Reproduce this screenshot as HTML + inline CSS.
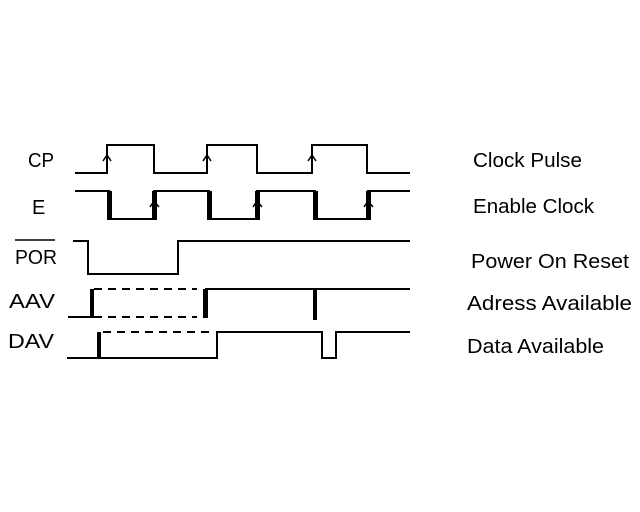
<!DOCTYPE html>
<html><head><style>html,body{margin:0;padding:0;background:#fff;}</style></head><body>
<svg width="640" height="512" xmlns="http://www.w3.org/2000/svg" style="display:block">
<g fill="none" stroke="#000" stroke-width="2">
<polyline points="75,173 107,173 107,145 154,145 154,173 207,173 207,145 257,145 257,173 312,173 312,145 367,145 367,173 410,173"/>
<polyline points="75,191 109,191 109,219 154,219 154,191 209,191 209,219 257,219 257,191 315,191 315,219 368,219 368,191 410,191"/>
<polyline points="73,241 88,241 88,274 178,274 178,241 410,241"/>
<polyline points="68,317 92,317"/>
<line x1="205" y1="289" x2="410" y2="289"/>
<line x1="94" y1="289" x2="197" y2="289" stroke-dasharray="8,6"/>
<line x1="94" y1="317" x2="197" y2="317" stroke-dasharray="8,6"/>
<polyline points="67,358 217,358 217,332 322,332 322,358 336,358 336,332 410,332"/>
<line x1="103" y1="332" x2="212" y2="332" stroke-dasharray="8,6"/>
<line x1="15" y1="240" x2="55" y2="240" stroke-width="1.5"/>
</g>
<g fill="#000">
<rect x="107" y="191" width="5" height="29"/>
<rect x="152" y="191" width="5" height="29"/>
<rect x="207" y="191" width="5" height="29"/>
<rect x="255" y="191" width="5" height="29"/>
<rect x="313" y="191" width="5" height="29"/>
<rect x="366" y="191" width="5" height="29"/>
<rect x="90" y="289" width="4" height="29"/>
<rect x="203" y="289" width="5" height="29"/>
<rect x="313" y="289" width="4" height="31"/>
<rect x="97" y="332" width="4" height="27"/>
</g>
<g fill="none" stroke="#000" stroke-width="1.5">
<polyline points="103,161 107,155 111,161"/>
<polyline points="203,161 207,155 211,161"/>
<polyline points="308,161 312,155 316,161"/>
<polyline points="150,207 154,201 159,207"/>
<polyline points="253,207 257,201 262,207"/>
<polyline points="364,207 368,201 373,207"/>
</g>
<g font-family="Liberation Sans, sans-serif" font-size="20" fill="#000">
<text x="28" y="167" textLength="26" lengthAdjust="spacingAndGlyphs">CP</text>
<text x="32" y="214">E</text>
<text x="15" y="264" textLength="42" lengthAdjust="spacingAndGlyphs">POR</text>
<text x="9" y="308" textLength="46" lengthAdjust="spacingAndGlyphs">AAV</text>
<text x="8" y="348" textLength="46" lengthAdjust="spacingAndGlyphs">DAV</text>
<text x="473" y="167" textLength="109" lengthAdjust="spacingAndGlyphs">Clock Pulse</text>
<text x="473" y="213" textLength="121" lengthAdjust="spacingAndGlyphs">Enable Clock</text>
<text x="471" y="268" textLength="158" lengthAdjust="spacingAndGlyphs">Power On Reset</text>
<text x="467" y="310" textLength="165" lengthAdjust="spacingAndGlyphs">Adress Available</text>
<text x="467" y="353" textLength="137" lengthAdjust="spacingAndGlyphs">Data Available</text>
</g>
</svg>
</body></html>
